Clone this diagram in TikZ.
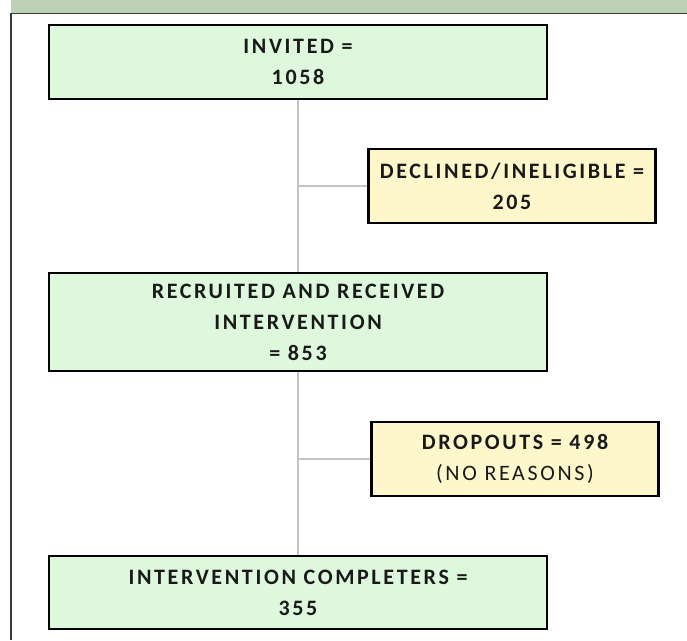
\documentclass[tikz,border=0pt]{standalone}
\usepackage{fontspec}
\setmainfont{Carlito}[LetterSpace=12]
\usepackage{xcolor}
\usetikzlibrary{positioning,calc}

\definecolor{bandgreen}{HTML}{BDD0B3}
\definecolor{boxgreen}{HTML}{DDF8DD}
\definecolor{boxyellow}{HTML}{FFF7CC}
\definecolor{linkgray}{HTML}{C4C4C4}
\definecolor{framegray}{HTML}{3A3A3A}

\begin{document}
\begin{tikzpicture}[
        x=1pt,y=-1pt,
        font=\fontsize{22}{31}\selectfont\bfseries,
        mainbox/.style={rectangle,draw=black,line width=2.2pt,fill=boxgreen,minimum width=498pt,inner sep=0pt,align=center,text=black!90},
        sidebox/.style={rectangle,draw=black,line width=2.2pt,fill=boxyellow,minimum width=287pt,minimum height=74pt,inner sep=0pt,align=center,text=black!90},
        link/.style={draw=linkgray,line width=2pt}
    ]
        \useasboundingbox (0,0) rectangle (687,640);
        % frame of the panel
        \fill[bandgreen] (11,0) rectangle (687,13);
        \draw[framegray,line width=1.5pt] (687,13.5) -- (11,13.5) -- (11,640);

        \node[mainbox,minimum height=74pt] (invited) at (298,62) {INVITED =\\1058};
        \node[sidebox] (declined) at (512,186) {DECLINED/INELIGIBLE =\\205};
        \node[mainbox,minimum height=98pt] (recruited) at (298,322) {RECRUITED AND RECEIVED\\INTERVENTION\\= 853};
        \node[sidebox] (dropouts) at (515,459) {DROPOUTS = 498\\{\mdseries (NO REASONS)}};
        \node[mainbox,minimum height=73pt] (completers) at (298,592.5) {INTERVENTION COMPLETERS =\\355};

        \draw[link] (invited.south) -- (recruited.north);
        \draw[link] (recruited.south) -- (completers.north);
        \draw[link] (invited.south |- declined.west) -- (declined.west);
        \draw[link] (recruited.south |- dropouts.west) -- (dropouts.west);
    \end{tikzpicture}
\end{document}
